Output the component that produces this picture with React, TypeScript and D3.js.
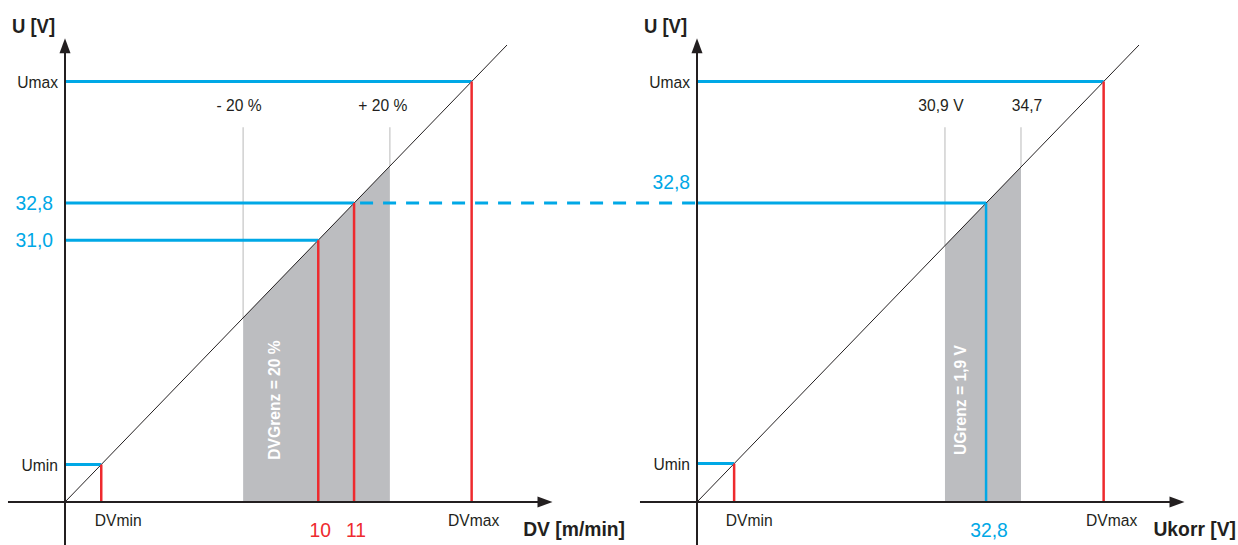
import React from "react";
import * as d3 from "d3";

// ---- data (abstract units: diagonal is U = value, 0..100) ----
const DIAG_MAX = 100;
const leftLevels = [92, 65.4, 57.3, 8.2];
const leftYLabels = ["Umax", "32,8", "31,0", "Umin"];
const leftXLabels = ["DVmax", "11", "10", "DVmin"];
const leftBand = [40.3, 73.5];
const leftBandLabels = ["- 20 %", "+ 20 %"];
const leftBandText = "DVGrenz = 20 %";

const rightLevels = [92, 65.4, 8.4];
const rightYLabels = ["Umax", "32,8", "Umin"];
const rightXLabels = ["DVmax", "32,8", "DVmin"];
const rightBand = [56.1, 73.3];
const rightBandLabels = ["30,9 V", "34,7"];
const rightBandText = "UGrenz = 1,9 V";
const bandTop = 82;

const BLUE = "#00a8e6";
const RED = "#ee2a2e";
const GRAY = "#bcbdc0";
const LGRAY = "#c9c9c9";
const INK = "#231f20";
const FONT = "'Liberation Sans', Arial, sans-serif";

const y = d3.scaleLinear().domain([0, DIAG_MAX]).range([502, 45]);
const xL = d3.scaleLinear().domain([0, DIAG_MAX]).range([65, 507]);
const xR = d3.scaleLinear().domain([0, DIAG_MAX]).range([697, 1139]);

type TxtProps = {
  x: number; y: number; children: React.ReactNode; size?: number; anchor?: "start" | "middle" | "end";
  bold?: boolean; fill?: string; sx?: number; rotate?: number;
};
function Txt({ x, y: yy, children, size = 16, anchor = "start", bold = false, fill = INK, sx = 0.92, rotate = 0 }: TxtProps) {
  return (
    <text
      transform={`translate(${x},${yy}) rotate(${rotate}) scale(${sx},1)`}
      textAnchor={anchor}
      fontFamily={FONT}
      fontWeight={bold ? "bold" : "normal"}
      fontSize={size}
      fill={fill}
    >
      {children}
    </text>
  );
}

function Axes({ x, label, labelRight }: { x: d3.ScaleLinear<number, number>; label: string; labelRight: number }) {
  const x0 = x(0);
  const y0 = y(0);
  const xStart = x(-12.9);
  const xEnd = x(110.3);
  const yTop = y(101.5);
  return (
    <g>
      <line x1={x0} x2={x0} y1={545} y2={yTop + 12} stroke={INK} strokeWidth={2} />
      <path d={`M${x0},${yTop} L${x0 - 5.5},${yTop + 15} L${x0 + 5.5},${yTop + 15} Z`} fill={INK} />
      <line x1={xStart} x2={xEnd - 12} y1={y0} y2={y0} stroke={INK} strokeWidth={2} />
      <path d={`M${xEnd},${y0} L${xEnd - 15},${y0 - 5.5} L${xEnd - 15},${y0 + 5.5} Z`} fill={INK} />
      <Txt x={x0 - 53} y={33} bold size={21} sx={0.88}>U [V]</Txt>
      <Txt x={labelRight} y={536} anchor="end" bold size={21} sx={0.92}>{label}</Txt>
    </g>
  );
}

function Band({ x, band, labels, labelShift, text, textX }: { x: d3.ScaleLinear<number, number>; band: number[]; labels: string[]; labelShift: number[]; text: string; textX: number }) {
  const pts: [number, number][] = [
    [band[0], 0], [band[0], band[0]], [band[1], band[1]], [band[1], 0],
  ];
  const line = d3.line<[number, number]>().x((d) => x(d[0])).y((d) => y(d[1]));
  return (
    <g>
      <path d={line(pts) + "Z"} fill={GRAY} />
      {band.map((b, i) => (
        <g key={i}>
          <line x1={x(b)} x2={x(b)} y1={y(bandTop)} y2={y(b)} stroke={LGRAY} strokeWidth={1.3} />
          <Txt x={x(b) + labelShift[i]} y={111} anchor="middle" size={17}>{labels[i]}</Txt>
        </g>
      ))}
      <Txt x={x(textX)} y={400} anchor="middle" bold size={17} fill="#ffffff" rotate={-90} sx={0.92}>{text}</Txt>
    </g>
  );
}

export default function App() {
  const diag = (x: d3.ScaleLinear<number, number>) => (
    <line x1={x(0)} y1={y(0)} x2={x(DIAG_MAX)} y2={y(DIAG_MAX)} stroke={INK} strokeWidth={1} />
  );
  return (
    <svg width={1238} height={545} style={{ position: "absolute", left: 0, top: 0, background: "#fff" }}>
      {/* left panel */}
      <Band x={xL} band={leftBand} labels={leftBandLabels} labelShift={[-4, -7]} text={leftBandText} textX={48.6} />
      {diag(xL)}
      {leftLevels.map((v, i) => (
        <line key={"lh" + i} x1={xL(0) + 1} x2={xL(v)} y1={y(v)} y2={y(v)} stroke={BLUE} strokeWidth={3} />
      ))}
      <line x1={xL(leftLevels[1])} x2={xR(0)} y1={y(leftLevels[1])} y2={y(leftLevels[1])} stroke={BLUE} strokeWidth={3} strokeDasharray="13,10" strokeDashoffset={-6} />
      {leftLevels.map((v, i) => (
        <line key={"lv" + i} x1={xL(v)} x2={xL(v)} y1={y(v)} y2={y(0)} stroke={RED} strokeWidth={2.5} />
      ))}
      <Axes x={xL} label="DV [m/min]" labelRight={625} />
      {leftYLabels.map((t, i) => {
        const big = /\d/.test(t);
        return (
          <Txt key={"ly" + i} x={big ? 53 : 58} y={y(leftLevels[i]) + (big ? 7 : 6)} anchor="end" size={big ? 21 : 17} fill={big ? BLUE : INK}>{t}</Txt>
        );
      })}
      {leftXLabels.map((t, i) => {
        const big = /\d/.test(t);
        const v = leftLevels[i];
        return (
          <Txt key={"lx" + i} x={big ? xL(v) + 2 : xL(v) + (t === "DVmin" ? 17 : 2)} y={big ? 537 : 526} anchor="middle" size={big ? 21 : 17} fill={big ? RED : INK}>{t}</Txt>
        );
      })}

      {/* right panel */}
      <Band x={xR} band={rightBand} labels={rightBandLabels} labelShift={[-4, 6]} text={rightBandText} textX={60.9} />
      {diag(xR)}
      {rightLevels.map((v, i) => (
        <line key={"rh" + i} x1={xR(0) + 1} x2={xR(v)} y1={y(v)} y2={y(v)} stroke={BLUE} strokeWidth={3} />
      ))}
      {rightLevels.map((v, i) => (
        <line key={"rv" + i} x1={xR(v)} x2={xR(v)} y1={y(v)} y2={y(0)} stroke={rightXLabels[i] === "32,8" ? BLUE : RED} strokeWidth={2.5} />
      ))}
      <Axes x={xR} label="Ukorr [V]" labelRight={1236} />
      {rightYLabels.map((t, i) => {
        const big = /\d/.test(t);
        return (
          <Txt key={"ry" + i} x={xR(0) - 7} y={big ? y(rightLevels[i]) - 14 : y(rightLevels[i]) + 6} anchor="end" size={big ? 21 : 17} fill={big ? BLUE : INK}>{t}</Txt>
        );
      })}
      {rightXLabels.map((t, i) => {
        const big = /\d/.test(t);
        const v = rightLevels[i];
        return (
          <Txt key={"rx" + i} x={big ? xR(v) + 3 : xR(v) + (t === "DVmin" ? 15 : 8)} y={big ? 537 : 526} anchor="middle" size={big ? 21 : 17} fill={big ? BLUE : INK}>{t}</Txt>
        );
      })}
    </svg>
  );
}
